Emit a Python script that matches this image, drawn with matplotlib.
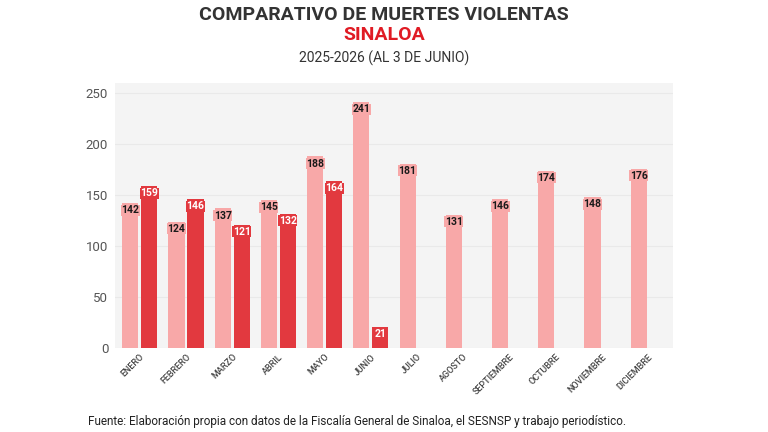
import matplotlib
matplotlib.use("Agg")
import matplotlib.pyplot as plt
import numpy as np

months = ["ENERO", "FEBRERO", "MARZO", "ABRIL", "MAYO", "JUNIO", "JULIO",
          "AGOSTO", "SEPTIEMBRE", "OCTUBRE", "NOVIEMBRE", "DICIEMBRE"]
vals_2025 = [142, 124, 137, 145, 188, 241, 181, 131, 146, 174, 148, 176]
vals_2026 = [159, 146, 121, 132, 164, 21]
yticks = [0, 50, 100, 150, 200, 250]

light = "#f8a8a8"
dark = "#e2393f"

plt.rcParams['font.family'] = ['Roboto', 'DejaVu Sans']

fig = plt.figure(figsize=(7.68, 4.32), dpi=100)
fig.patch.set_facecolor("white")
ax = fig.add_axes([0.150, 0.194, 0.726, 0.614])
ax.set_facecolor("#f4f4f4")

x = np.arange(len(months))
w = 0.35
off = 0.205
ax.bar(x - off, vals_2025, width=w, color=light, zorder=2)
x2 = np.arange(len(vals_2026))
ax.bar(x2 + off, vals_2026, width=w, color=dark, zorder=2)

for xi, v in zip(x, vals_2025):
    ax.text(xi - off, v - 7, str(v), ha="center", va="center", fontsize=7.5,
            fontweight="bold", color="#1a1a1a", zorder=3,
            bbox=dict(boxstyle="square,pad=0.05", fc=light, ec="none"))
for xi, v in zip(x2, vals_2026):
    ax.text(xi + off, v - 7, str(v), ha="center", va="center", fontsize=7.5,
            fontweight="bold", color="white", zorder=3,
            bbox=dict(boxstyle="square,pad=0.05", fc=dark, ec="none"))

ax.set_xlim(-0.53, 11.53)
ax.set_ylim(0, 260)
ax.set_yticks(yticks)
ax.set_yticklabels([str(t) for t in yticks], fontsize=9.5, color="#555555")
ax.set_xticks(x)
ax.set_xticklabels(months, fontsize=6.5, color="#444444", fontweight="medium")
ax.tick_params(axis="both", length=0)
ax.tick_params(axis="y", pad=5)
ax.tick_params(axis="x", pad=3)
for lab in ax.get_xticklabels():
    lab.set_rotation(45)
    lab.set_ha("right")
    lab.set_rotation_mode("anchor")
ax.grid(axis="y", color="#e9e9e9", linewidth=0.8, zorder=0)
ax.set_axisbelow(True)
for s in ax.spines.values():
    s.set_visible(False)

fig.text(0.5, 0.965, "COMPARATIVO DE MUERTES VIOLENTAS", ha="center", va="center",
         fontsize=14, fontweight="bold", color="#333333")
fig.text(0.5, 0.918, "SINALOA", ha="center", va="center",
         fontsize=14, fontweight="bold", color="#e01b24")
fig.text(0.5, 0.865, "2025-2026 (AL 3 DE JUNIO)", ha="center", va="center",
         fontsize=10, color="#333333")
fig.text(0.114, 0.025, "Fuente: Elaboración propia con datos de la Fiscalía General de Sinaloa, el SESNSP y trabajo periodístico.",
         ha="left", va="center", fontsize=8.5, color="#222222")

fig.savefig("out.png", dpi=100)
